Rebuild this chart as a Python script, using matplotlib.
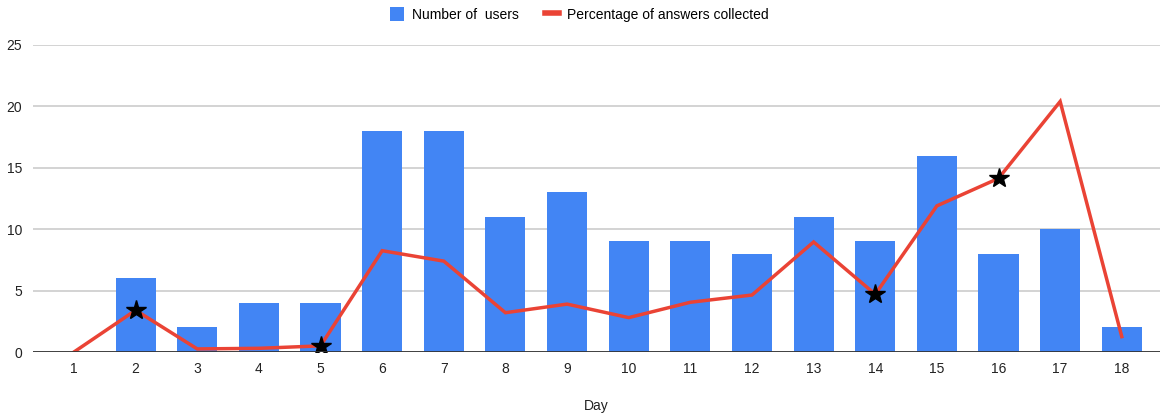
import matplotlib
matplotlib.use("Agg")
import matplotlib.pyplot as plt
from matplotlib.lines import Line2D
from matplotlib.patches import Patch

days = list(range(1, 19))
day_labels = [str(d) for d in days]
users = [0, 6, 2, 4, 4, 18, 18, 11, 13, 9, 9, 8, 11, 9, 16, 8, 10, 2]
pct_answers = [0, 3.4, 0.25, 0.3, 0.5, 8.25, 7.4, 3.2, 3.9, 2.8, 4.05, 4.64, 8.96, 4.7, 11.9, 14.14, 20.4, 1.25]
star_days = [2, 5, 14, 16]
yticks = [0, 5, 10, 15, 20, 25]

plt.rcParams['font.family'] = ['Liberation Sans', 'DejaVu Sans']

fig = plt.figure(figsize=(11.6, 4.16), dpi=100)
ax = fig.add_axes([33/1160, 64/416, 1 - 33/1160, (352-45)/416])

blue = '#4285F4'
red = '#EA4335'

ax.bar(days, users, width=0.65, color=blue, zorder=2)
ax.plot(days, pct_answers, color=red, lw=2.5, zorder=3, solid_joinstyle='miter')
star_vals = [pct_answers[days.index(d)] for d in star_days]
ax.plot(star_days, star_vals, linestyle='none', marker='*', color='black', markersize=15, zorder=4)

ax.set_ylim(0, 25)
ax.set_xlim(0.335, 18.62)
ax.set_yticks(yticks)
ax.set_xticks(days)
ax.set_xticklabels(day_labels)
ax.yaxis.grid(True, color='#cccccc', lw=1.2, zorder=0)
ax.set_axisbelow(True)
ax.axhline(0, color='#333333', lw=2, zorder=5)
for s in ax.spines.values():
    s.set_visible(False)
ax.tick_params(axis='both', length=0, labelsize=10, colors='#222222')
ax.tick_params(axis='y', pad=8)
ax.tick_params(axis='x', pad=7)
ax.set_xlabel('Day', fontsize=10, color='#222222', labelpad=17)

handles = [Patch(facecolor=blue, edgecolor='none'),
           Line2D([0], [0], color=red, lw=4)]
fig.legend(handles, ['Number of  users', 'Percentage of answers collected'],
           loc='center', bbox_to_anchor=(0.4995, 0.966), ncol=2, frameon=False,
           fontsize=10, handlelength=1.0, handleheight=1.2, columnspacing=1.9,
           handletextpad=0.55)

fig.savefig('out.png', dpi=100)
